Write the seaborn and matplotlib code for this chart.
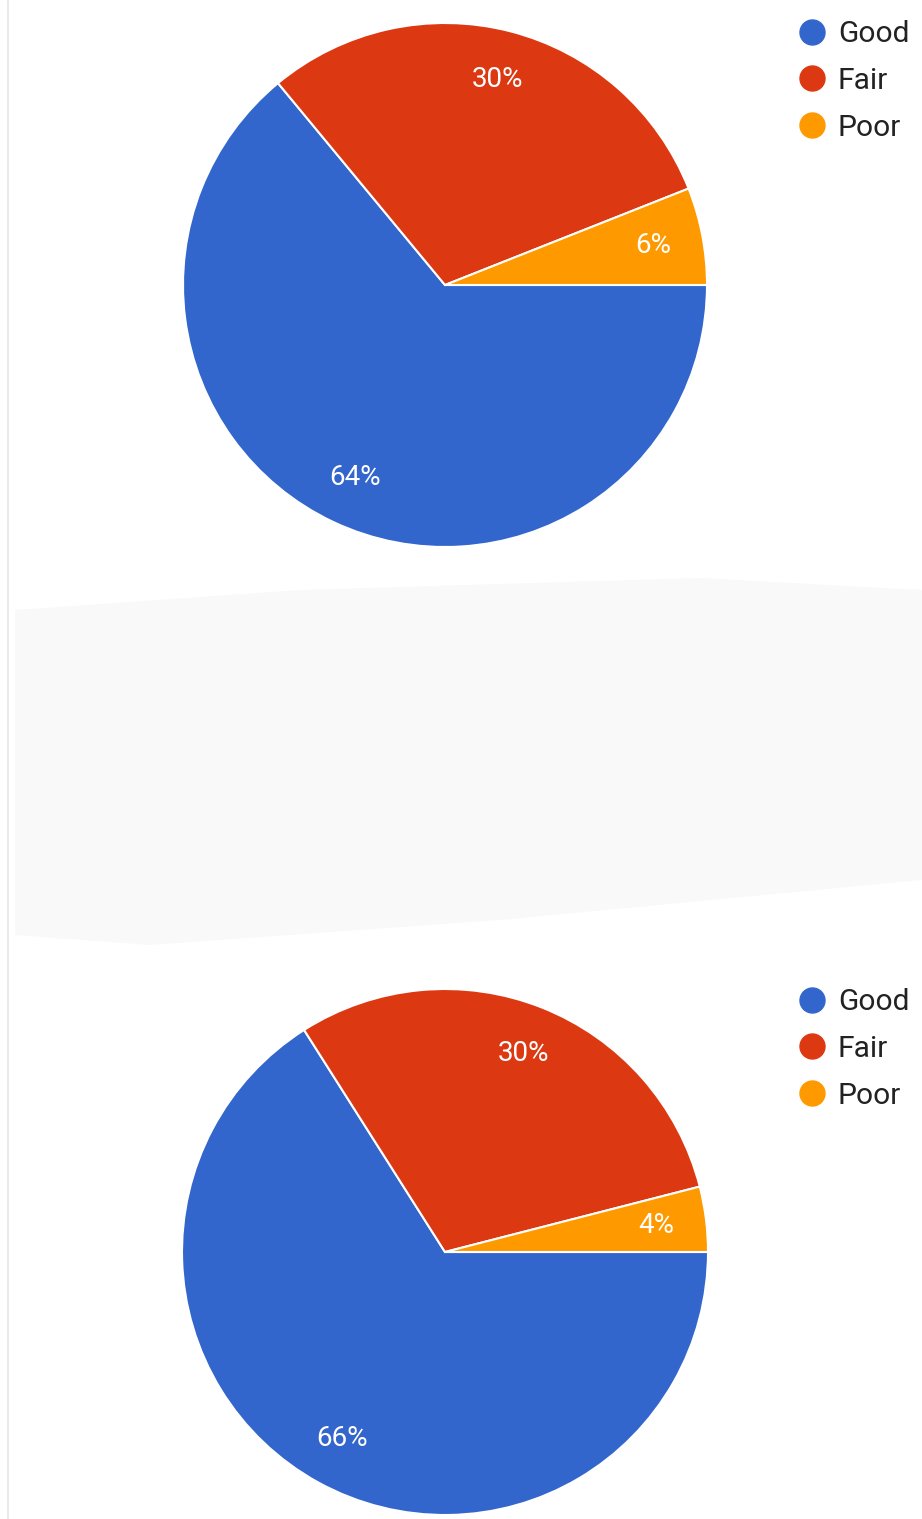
import matplotlib
matplotlib.use("Agg")
import matplotlib.pyplot as plt
from matplotlib.lines import Line2D
from matplotlib.patches import Polygon
import seaborn as sns

sns.set_theme(style="white")
plt.rcParams['font.family'] = ['Roboto', 'DejaVu Sans']

# data
categories = ["Good", "Fair", "Poor"]
survey_1 = [64, 30, 6]
survey_2 = [66, 30, 4]

colors = sns.color_palette(["#3366cc", "#dc3912", "#ff9900"])

W, H = 922, 1519
fig = plt.figure(figsize=(W / 100, H / 100), dpi=100)
fig.patch.set_facecolor("white")

# faint screenshot band between the two charts
band = Polygon([(15 / W, 1 - 610 / H), (300 / W, 1 - 590 / H), (700 / W, 1 - 578 / H),
                (922 / W, 1 - 590 / H), (922 / W, 1 - 880 / H), (500 / W, 1 - 920 / H),
                (150 / W, 1 - 945 / H), (15 / W, 1 - 935 / H)],
               closed=True, transform=fig.transFigure, facecolor="#f9f9f9",
               edgecolor="none", zorder=0)
fig.patches.append(band)
fig.add_artist(Line2D([8 / W, 8 / W], [0, 1], transform=fig.transFigure,
                      color="#e6e6e6", lw=1.2))


def draw_pie(values, cx, cy, r, leg_x, leg_y):
    ax = fig.add_axes([(cx - r) / W, 1 - (cy + r) / H, 2 * r / W, 2 * r / H])
    wedges, texts, autotexts = ax.pie(
        values, colors=colors, startangle=0, counterclock=False,
        autopct=lambda p: f"{p:.0f}%", pctdistance=0.81,
        wedgeprops=dict(edgecolor="white", linewidth=1.5),
        textprops=dict(color="white", fontsize=20))
    ax.set_xlim(-1, 1)
    ax.set_ylim(-1, 1)
    ax.set_aspect("equal")
    ax.axis("off")

    handles = [Line2D([0], [0], marker="o", linestyle="none", markersize=18,
                      markerfacecolor=c, markeredgecolor=c) for c in colors]
    fig.legend(handles, categories, loc="upper left",
               bbox_to_anchor=(leg_x / W, 1 - leg_y / H), frameon=False,
               fontsize=21.5, labelspacing=0.63, handletextpad=0.37,
               handlelength=1.0, borderaxespad=0, borderpad=0,
               labelcolor="#222222")


draw_pie(survey_1, 445, 285, 262, 797, 20)
draw_pie(survey_2, 445, 1252, 263, 797, 988)

fig.savefig("out.png", dpi=100)
